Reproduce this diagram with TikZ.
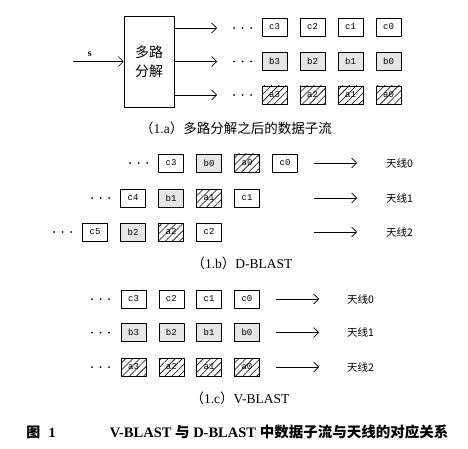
\documentclass[tikz,border=0pt]{standalone}
\usepackage{fontspec}
\setmainfont{Liberation Serif}
\setmonofont{Liberation Mono}
\newfontfamily\cjk{Noto Sans CJK SC}
\usetikzlibrary{arrows.meta, patterns.meta, positioning}
\usepackage{xcolor}
\definecolor{streamgray}{RGB}{230,230,230}
\tikzset{whiteboxnode/.style={rectangle, draw=black, line width=0.6pt, minimum width=25pt, minimum height=18pt, inner sep=0pt, font=\ttfamily\fontsize{9}{9}\selectfont},
grayboxnode/.style={whiteboxnode, fill=streamgray},
hatchboxnode/.style={whiteboxnode, pattern={Lines[angle=45, distance=5pt, line width=0.6pt]}}}
\tikzset{streamarrow/.style={line width=0.6pt, -{Straight Barb[length=5pt, width=10pt]}},
antennanode/.style={anchor=west, inner sep=0pt, font=\cjk\fontsize{10.5}{10.5}\selectfont},
captionnode/.style={inner sep=0pt, font=\fontsize{13.5}{13.5}\selectfont}}

\begin{document}
\begin{tikzpicture}[x=1pt, y=-1pt, line join=bevel]
        \useasboundingbox (0,0) rectangle (468,449);
        % Demultiplexer
        \node[draw=black, line width=0.6pt, minimum width=50pt, minimum height=91pt, align=center, font=\cjk\fontsize{14}{19}\selectfont] (demux) at (149, 61.5) {多路\\分解};
        \coordinate (sin) at (73, 61.5);
        \draw[streamarrow] (sin) -- node[pos=0.33, above=1pt, font=\bfseries] {s} (demux.west);
        \foreach \y/\row in {28/c, 61.5/b, 95/a} {
            \coordinate (out\row) at (217, \y);
            \draw[streamarrow] (demux.east |- out\row) -- (out\row);
            \foreach \x in {234, 242.5, 251} {
                \fill (\x, \y) circle (1pt);
            }
        }
        % Sub-streams after demultiplexing
        \foreach \k [count=\i from 0] in {3,2,1,0} {
            \node[whiteboxnode] (ac\k) at (274.5+38*\i, 27) {c\k};
            \node[grayboxnode] (ab\k) at (274.5+38*\i, 61.5) {b\k};
            \node[hatchboxnode] (aa\k) at (274.5+38*\i, 95) {a\k};
        }
        \node[captionnode] (capa) at (236, 128) {{\cjk （}1.a{\cjk ）多路分解之后的数据子流}};
        % D-BLAST
        \foreach \y/\start/\list [count=\r from 0] in {
            163/171/{c3/whiteboxnode, b0/grayboxnode, a0/hatchboxnode, c0/whiteboxnode},
            198/133/{c4/whiteboxnode, b1/grayboxnode, a1/hatchboxnode, c1/whiteboxnode},
            232/95/{c5/whiteboxnode, b2/grayboxnode, a2/hatchboxnode, c2/whiteboxnode}} {
            \foreach \name/\style [count=\i from 0] in \list {
                \node[\style] (d\name) at (\start+38*\i, \y) {\name};
            }
            \foreach \dx in {41, 32.5, 24} {
                \fill (\start-\dx, \y) circle (1pt);
            }
            \coordinate (dsrc\r) at (314, \y);
            \coordinate (ddst\r) at (357, \y);
            \draw[streamarrow] (dsrc\r) -- (ddst\r);
            \node[antennanode, right=29pt of ddst\r] (dant\r) {天线\r};
        }
        \node[captionnode] (capb) at (242, 263) {{\cjk （}1.b{\cjk ）}D-BLAST};
        % V-BLAST
        \foreach \y/\row/\style [count=\r from 0] in {299/c/whiteboxnode, 332.5/b/grayboxnode, 367/a/hatchboxnode} {
            \foreach \k [count=\i from 0] in {3,2,1,0} {
                \node[\style] (v\row\k) at (133.5+37.8*\i, \y) {\row\k};
            }
            \foreach \x in {92, 100.5, 109} {
                \fill (\x, \y) circle (1pt);
            }
            \coordinate (vsrc\r) at (276, \y);
            \coordinate (vdst\r) at (319, \y);
            \draw[streamarrow] (vsrc\r) -- (vdst\r);
            \node[antennanode, right=28pt of vdst\r] (vant\r) {天线\r};
        }
        \node[captionnode] (capc) at (240, 398) {{\cjk （}1.c{\cjk ）}V-BLAST};
        % Figure caption
        \node[captionnode, font=\bfseries\fontsize{14}{14}\selectfont] (fignum) at (41, 432) {{\cjk 图}\hspace{0.6em}1};
        \node[captionnode, font=\bfseries\fontsize{14.5}{14.5}\selectfont] (figtitle) at (279, 432) {V-BLAST {\cjk 与} D-BLAST {\cjk 中数据子流与天线的对应关系}};
\end{tikzpicture}
\end{document}
